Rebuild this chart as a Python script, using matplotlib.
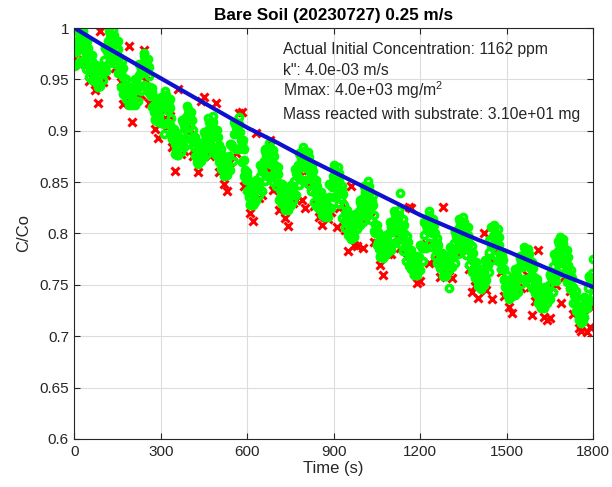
import numpy as np
import matplotlib
matplotlib.use("Agg")
import matplotlib.pyplot as plt

plt.rcParams["font.family"] = ["Liberation Sans", "DejaVu Sans"]
plt.rcParams["mathtext.fontset"] = "custom"
plt.rcParams["mathtext.rm"] = "Liberation Sans"

# green series (C/Co x 1000), readings at 0, 5, 10 ... 1800 s
green_t = np.arange(0, 1801, 5)
green = [
    977, 986, 978, 998, 990, 981, 997, 985, 973, 987, 974, 960,
    974, 961, 949, 964, 953, 944, 963, 958, 956, 981, 980, 976,
    997, 990, 981, 998, 987, 974, 987, 972, 956, 968, 952, 937,
    950, 937, 926, 943, 935, 928, 950, 946, 942, 965, 961, 956,
    976, 968, 957, 970, 953, 934, 942, 925, 911, 927, 919, 912,
    933, 927, 897, 939, 930, 919, 931, 912, 893, 902, 887, 876,
    895, 890, 886, 910, 906, 902, 924, 916, 905, 918, 901, 884,
    894, 870, 869, 888, 881, 876, 899, 894, 890, 912, 905, 897,
    914, 902, 889, 901, 886, 870, 882, 869, 857, 874, 867, 862,
    887, 886, 884, 909, 904, 897, 913, 899, 883, 891, 872, 852,
    860, 843, 829, 846, 838, 831, 852, 848, 844, 867, 863, 860,
    882, 876, 869, 888, 878, 867, 881, 867, 853, 865, 849, 835,
    848, 835, 824, 841, 833, 826, 847, 843, 839, 863, 859, 855,
    878, 872, 865, 884, 874, 864, 879, 867, 854, 867, 853, 839,
    852, 838, 825, 840, 828, 818, 835, 828, 823, 848, 847, 845,
    867, 860, 850, 865, 851, 835, 846, 828, 812, 823, 809, 797,
    814, 806, 798, 819, 814, 810, 833, 828, 824, 846, 840, 832,
    851, 840, 826, 837, 818, 800, 808, 792, 778, 794, 786, 778,
    799, 794, 789, 811, 806, 801, 822, 814, 806, 823, 839, 800,
    814, 800, 786, 798, 784, 770, 784, 772, 761, 778, 770, 765,
    789, 787, 786, 811, 808, 803, 822, 812, 800, 814, 800, 785,
    796, 781, 767, 781, 769, 759, 778, 771, 747, 787, 783, 779,
    802, 798, 793, 814, 807, 799, 816, 805, 792, 806, 791, 776,
    788, 773, 758, 772, 759, 748, 765, 757, 751, 774, 771, 769,
    794, 806, 787, 808, 800, 790, 804, 789, 772, 782, 765, 748,
    760, 747, 737, 756, 749, 743, 765, 760, 756, 778, 773, 767,
    787, 779, 769, 785, 773, 759, 772, 758, 743, 756, 742, 730,
    746, 736, 728, 748, 742, 738, 761, 758, 756, 780, 776, 772,
    793, 797, 778, 795, 784, 771, 784, 769, 753, 764, 748, 732,
    744, 730, 717, 733, 723, 715, 738, 735, 734, 759, 756, 752,
    775,
]

# green series, the readings in between (2.5, 7.5 ... 1797.5 s)
green_t2 = np.arange(2.5, 1800, 5)
green2 = [
    991, 982, 988, 995, 985, 989, 992, 979, 980, 981, 967, 967,
    968, 955, 957, 959, 948, 954, 961, 957, 969, 981, 978, 987,
    994, 985, 990, 993, 980, 981, 980, 964, 962, 961, 944, 944,
    944, 931, 935, 940, 931, 939, 949, 944, 954, 964, 958, 966,
    973, 962, 964, 962, 943, 938, 934, 918, 919, 924, 915, 923,
    931, 923, 930, 935, 924, 925, 922, 902, 898, 895, 881, 886,
    893, 888, 898, 909, 904, 913, 921, 910, 912, 910, 892, 889,
    888, 874, 879, 885, 878, 888, 897, 892, 901, 909, 901, 906,
    909, 895, 895, 894, 878, 876, 876, 863, 866, 871, 864, 875,
    887, 885, 897, 907, 900, 905, 907, 891, 887, 882, 862, 856,
    852, 836, 838, 843, 834, 842, 851, 846, 856, 866, 861, 871,
    880, 872, 879, 884, 872, 874, 875, 860, 859, 858, 842, 842,
    842, 829, 833, 838, 829, 837, 846, 841, 851, 862, 857, 867,
    876, 868, 875, 880, 869, 872, 874, 860, 861, 861, 846, 846,
    846, 831, 833, 835, 823, 827, 832, 825, 836, 848, 846, 856,
    864, 855, 858, 859, 843, 841, 838, 820, 818, 817, 803, 806,
    811, 802, 809, 817, 812, 822, 831, 826, 835, 844, 836, 842,
    846, 833, 832, 828, 809, 804, 801, 785, 786, 791, 782, 789,
    797, 791, 800, 809, 803, 812, 819, 810, 815, 818, 806, 807,
    808, 793, 792, 792, 777, 777, 779, 766, 770, 775, 767, 777,
    789, 786, 799, 810, 805, 813, 818, 806, 807, 808, 792, 791,
    789, 774, 774, 776, 764, 769, 775, 768, 776, 786, 781, 791,
    801, 795, 804, 811, 803, 808, 811, 798, 799, 799, 783, 782,
    781, 765, 765, 766, 753, 757, 762, 754, 763, 773, 770, 782,
    793, 789, 798, 805, 795, 797, 797, 780, 777, 774, 756, 754,
    754, 742, 747, 753, 746, 754, 763, 758, 767, 776, 770, 777,
    784, 774, 777, 780, 766, 766, 766, 750, 750, 750, 736, 738,
    742, 732, 738, 746, 740, 750, 760, 757, 768, 779, 774, 783,
    790, 782, 787, 790, 777, 778, 777, 761, 759, 757, 740, 738,
    738, 723, 725, 729, 719, 727, 737, 734, 747, 758, 754, 762,
]

# green series, low readings of the wide bumps, every 10 s
green_t3 = np.arange(0, 1801, 10)
green3 = [
    963, 965, 968, 966, 960, 952, 949, 948, 943, 944,
    949, 958, 966, 968, 965, 956, 943, 936, 931, 925,
    925, 925, 929, 939, 945, 944, 937, 923, 910, 909,
    908, 907, 908, 906, 892, 877, 876, 879, 884, 893,
    892, 885, 875, 868, 871, 874, 877, 883, 883, 876,
    870, 863, 856, 857, 862, 871, 882, 882, 870, 856,
    841, 828, 828, 833, 837, 841, 851, 856, 856, 850,
    846, 833, 829, 823, 823, 828, 832, 837, 847, 852,
    852, 848, 841, 831, 827, 824, 818, 816, 816, 825,
    836, 837, 829, 815, 805, 799, 795, 797, 804, 808,
    811, 818, 820, 813, 802, 789, 777, 776, 780, 782,
    784, 791, 793, 790, 783, 773, 768, 765, 760, 760,
    764, 773, 786, 791, 787, 778, 771, 766, 759, 759,
    764, 767, 771, 780, 785, 785, 779, 769, 763, 757,
    749, 746, 750, 755, 763, 774, 778, 773, 765, 755,
    741, 736, 739, 740, 743, 751, 756, 756, 751, 747,
    742, 732, 727, 727, 732, 736, 743, 754, 762, 765,
    762, 753, 746, 732, 725, 716, 713, 719, 727, 734,
    740,
]

# red series (C/Co x 1000), one reading every 10 s
red_t = np.arange(0, 1801, 10)
red = [
    977, 969, 964, 980, 964, 948, 957, 940, 927, 997,
    947, 954, 980, 972, 961, 970, 947, 926, 933, 982,
    909, 933, 933, 935, 979, 948, 927, 925, 902, 893,
    916, 911, 904, 914, 884, 861, 941, 877, 880, 907,
    896, 875, 877, 860, 929, 933, 881, 875, 897, 927,
    860, 865, 848, 841, 870, 875, 878, 917, 918, 846,
    843, 820, 812, 898, 835, 837, 865, 860, 891, 842,
    844, 823, 831, 815, 807, 830, 830, 833, 861, 833,
    825, 862, 845, 827, 835, 816, 808, 818, 814, 821,
    850, 806, 825, 829, 803, 783, 846, 789, 788, 816,
    786, 814, 834, 817, 792, 791, 769, 760, 782, 780,
    780, 805, 797, 786, 797, 777, 826, 825, 762, 752,
    754, 787, 790, 771, 791, 774, 779, 758, 826, 761,
    764, 757, 785, 784, 781, 799, 783, 765, 743, 749,
    737, 748, 800, 745, 777, 736, 774, 787, 763, 739,
    743, 728, 723, 748, 747, 747, 770, 760, 748, 721,
    734, 784, 729, 719, 716, 718, 747, 750, 776, 732,
    758, 767, 744, 722, 727, 708, 705, 721, 704, 709,
    728,
]

# fitted curve, every 100 s
fit_t = np.arange(0, 1801, 100)
fit = [1.000, 0.983, 0.967, 0.951, 0.935, 0.919, 0.903, 0.889, 0.874, 0.860,
       0.846, 0.832, 0.818, 0.806, 0.794, 0.783, 0.771, 0.759, 0.748]

info = [
    "Actual Initial Concentration: 1162 ppm",
    'k": 4.0e-03 m/s',
    "Mmax: 4.0e+03 mg/m$^2$",
    "Mass reacted with substrate: 3.10e+01 mg",
]

fig = plt.figure(figsize=(6.12, 4.87), dpi=100)
ax = fig.add_axes([0.1217, 0.0986, 0.8472, 0.8439])

ax.plot(red_t, np.array(red) / 1000, linestyle="none", marker="x", color="#ff0000",
        markersize=5.5, markeredgewidth=2.2)
gt = np.concatenate([green_t, green_t2, green_t3])
gv = np.concatenate([green, green2, green3]) / 1000
ax.plot(gt, gv, linestyle="none", marker="o", markerfacecolor="none",
        markeredgecolor="#00ff00", markersize=4.5, markeredgewidth=2.5)
ax.plot(fit_t, fit, color="#0f0fd0", linewidth=3)

ax.set_xlim(0, 1800)
ax.set_ylim(0.6, 1.0)
ax.set_xticks(np.arange(0, 1801, 300))
ax.set_yticks([0.6, 0.65, 0.7, 0.75, 0.8, 0.85, 0.9, 0.95, 1.0])
ax.set_yticklabels(["0.6", "0.65", "0.7", "0.75", "0.8", "0.85", "0.9", "0.95", "1"])
ax.grid(True, color="#dcdcdc", linewidth=0.8)
ax.set_axisbelow(True)
ax.tick_params(direction="in", top=True, right=True, length=4, width=0.8,
               labelsize=11, colors="#262626", pad=4)
for s in ax.spines.values():
    s.set_color("#262626")
    s.set_linewidth(0.8)

ax.set_xlabel("Time (s)", fontsize=12, color="#262626", labelpad=2)
ax.set_ylabel("C/Co", fontsize=12, color="#262626", labelpad=6)
ax.set_title("Bare Soil (20230727) 0.25 m/s", fontsize=12.3, fontweight="bold",
             color="black", pad=6)

ys = [0.975, 0.9547, 0.9343, 0.9116]
for s, y in zip(info, ys):
    ax.text(724, y, s, fontsize=11.3, color="#262626", va="baseline")

plt.savefig("out.png", dpi=100)
